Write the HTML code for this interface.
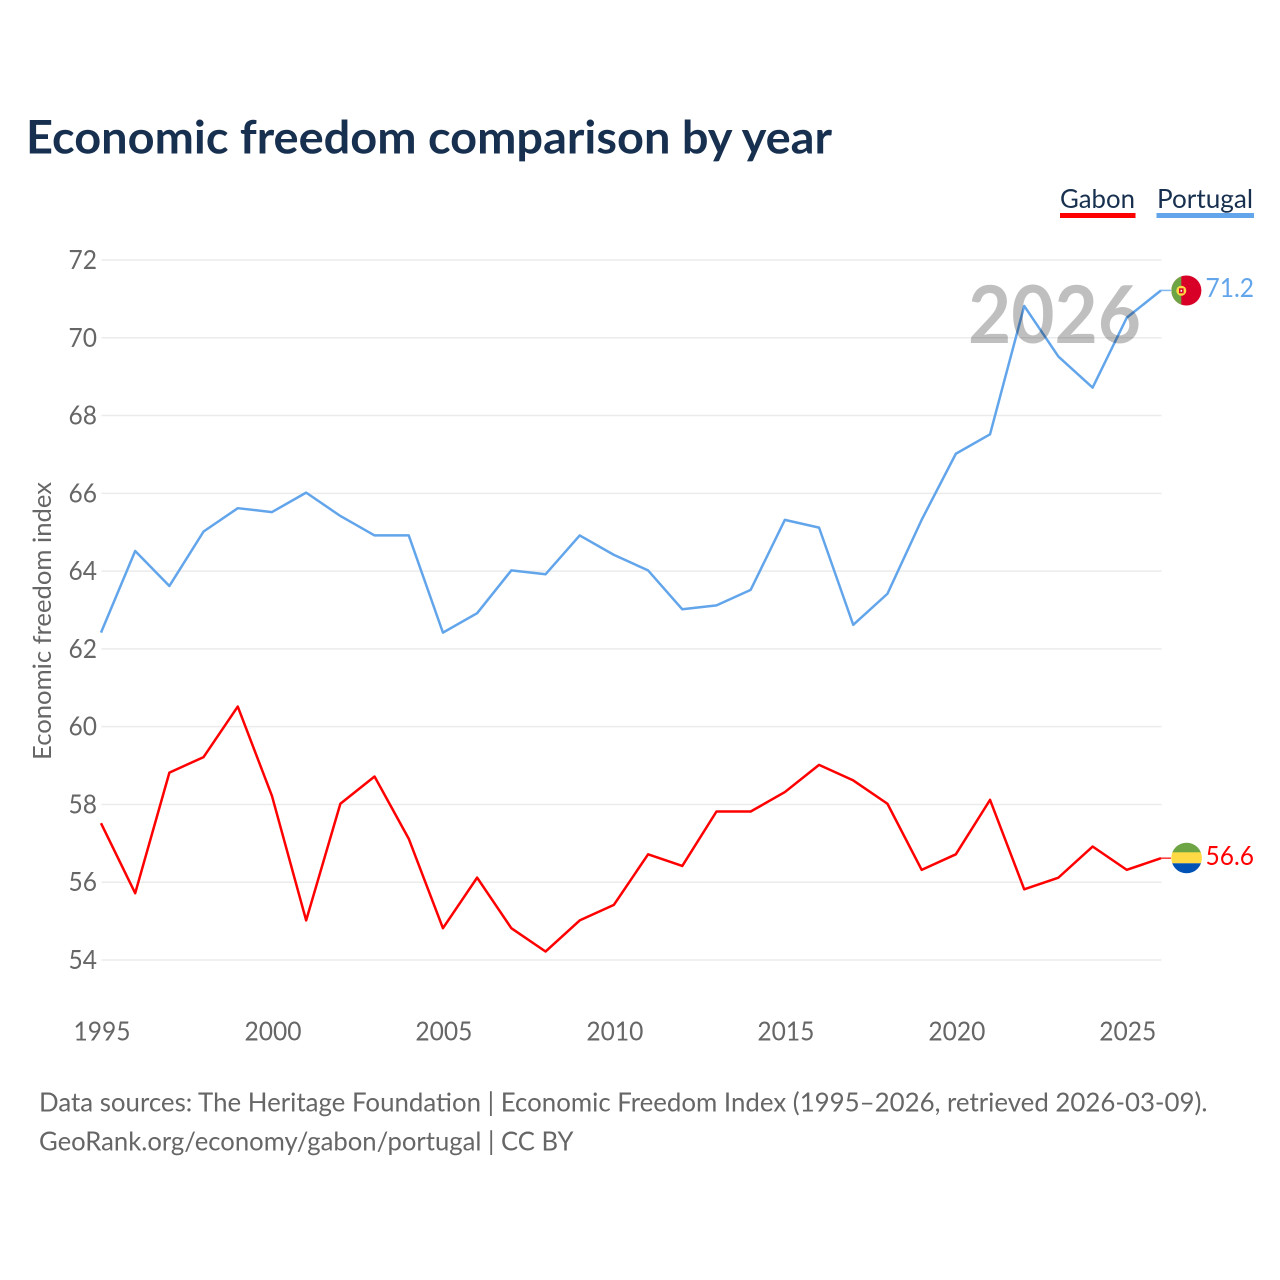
<!DOCTYPE html>
<html>
<head>
<meta charset="utf-8">
<style>
html,body{margin:0;padding:0;background:#fff;}
svg{display:block;}
text{font-family:"Lato","Carlito","Liberation Sans",sans-serif;}
</style>
</head>
<body>
<svg id="chart" width="1280" height="1280" viewBox="0 0 1280 1280" xmlns="http://www.w3.org/2000/svg">
  <rect width="1280" height="1280" fill="#ffffff"/>
  <text x="26" y="153.500" font-size="46" font-weight="700" fill="#18304f" textLength="806" lengthAdjust="spacingAndGlyphs">Economic freedom comparison by year</text>
  <g id="grid"></g>
  <g id="ylabels"></g>
  <g id="xlabels"></g>
  <text transform="translate(51,621) rotate(-90)" text-anchor="middle" font-size="25.500" fill="#666666" textLength="278" lengthAdjust="spacingAndGlyphs">Economic freedom index</text>
  <g id="series" transform="translate(-0.5,-0.7)"></g>
  <text x="968" y="343" font-size="80" font-weight="700" fill="#000000" fill-opacity="0.25" textLength="173" lengthAdjust="spacingAndGlyphs">2026</text>

  <g>
    <text x="1060" y="208" font-size="26" fill="#18304f" textLength="75" lengthAdjust="spacingAndGlyphs">Gabon</text>
    <rect x="1060" y="213" width="75.500" height="5" fill="#ff0000"/>
  </g>
  <g>
    <text x="1157" y="208" font-size="26" fill="#18304f" textLength="96" lengthAdjust="spacingAndGlyphs">Portugal</text>
    <rect x="1156.500" y="213" width="97.500" height="5" fill="#62a5eb"/>
  </g>

  <defs>
    <clipPath id="flag-pt"><circle cx="1186.400" cy="290.500" r="15"/></clipPath>
    <clipPath id="flag-ga"><circle cx="1186.600" cy="858" r="15.300"/></clipPath>
  </defs>
  <g clip-path="url(#flag-pt)">
    <rect x="1171" y="275" width="31" height="31" fill="#d80027"/>
    <rect x="1171" y="275" width="10.300" height="31" fill="#6da544"/>
    <circle cx="1181.300" cy="290.700" r="5" fill="#ffda44"/>
    <rect x="1179" y="288.300" width="4.600" height="5" fill="#d80027"/>
    <rect x="1180.500" y="289.800" width="1.600" height="2" fill="#eeeeee"/>
  </g>
  <g clip-path="url(#flag-ga)">
    <rect x="1171" y="842" width="32" height="11" fill="#6da544"/>
    <rect x="1171" y="852.300" width="32" height="11" fill="#ffda44"/>
    <rect x="1171" y="863.300" width="32" height="11" fill="#0052b4"/>
  </g>
  <text x="1205.500" y="297" font-size="26" fill="#62a5eb" textLength="48.500" lengthAdjust="spacingAndGlyphs">71.2</text>
  <text x="1205.500" y="865" font-size="26" fill="#ff0000" textLength="48.500" lengthAdjust="spacingAndGlyphs">56.6</text>

  <text x="39" y="1111.500" font-size="26.500" fill="#666666" textLength="1168.500" lengthAdjust="spacingAndGlyphs">Data sources: The Heritage Foundation | Economic Freedom Index (1995–2026, retrieved 2026-03-09).</text>
  <text x="39" y="1150.500" font-size="26.500" fill="#666666" textLength="534.500" lengthAdjust="spacingAndGlyphs">GeoRank.org/economy/gabon/portugal | CC BY</text>
</svg>
<script>
const years = [1995,1996,1997,1998,1999,2000,2001,2002,2003,2004,2005,2006,2007,2008,2009,2010,2011,2012,2013,2014,2015,2016,2017,2018,2019,2020,2021,2022,2023,2024,2025,2026];
const gabonValues = [57.5,55.7,58.8,59.2,60.5,58.2,55,58,58.7,57.1,54.8,56.1,54.8,54.2,55,55.4,56.7,56.4,57.8,57.8,58.3,59,58.6,58,56.3,56.7,58.1,55.8,56.1,56.9,56.3,56.6];
const portugalValues = [62.4,64.5,63.6,65,65.6,65.5,66,65.4,64.9,64.9,62.4,62.9,64,63.9,64.9,64.4,64,63,63.1,63.5,65.3,65.1,62.6,63.4,65.3,67,67.5,70.8,69.5,68.7,70.5,71.2];
const yTicks = [54,56,58,60,62,64,66,68,70,72];
const xTicks = [1995,2000,2005,2010,2015,2020,2025];

const NS = 'http://www.w3.org/2000/svg';
const xScale = function (year) { return 101.5 + (year - 1995) * (1161.5 - 101.5) / (2026 - 1995); };
const yScale = function (value) { return 960 - (value - 54) * (960 - 260) / (72 - 54); };

const grid = document.getElementById('grid');
const ylabels = document.getElementById('ylabels');
const xlabels = document.getElementById('xlabels');
const seriesGroup = document.getElementById('series');

yTicks.forEach(function (tick) {
  const line = document.createElementNS(NS, 'line');
  
  
  line.setAttribute('x1', 101.5);
  line.setAttribute('x2', 1161.5);
  line.setAttribute('y1', yScale(tick));
  line.setAttribute('y2', yScale(tick));
  line.setAttribute('stroke', '#ebebeb');
  line.setAttribute('stroke-width', '1.5');
  grid.appendChild(line);

  const label = document.createElementNS(NS, 'text');
  
  
  label.setAttribute('x', 97);
  label.setAttribute('y', yScale(tick) + 9);
  label.setAttribute('text-anchor', 'end');
  label.setAttribute('font-size', '26.5');
  label.setAttribute('fill', '#666666');
  label.setAttribute('textLength', '28.5');
  label.setAttribute('lengthAdjust', 'spacingAndGlyphs');
  label.textContent = tick;
  ylabels.appendChild(label);
});

xTicks.forEach(function (tick) {
  const label = document.createElementNS(NS, 'text');
  
  
  label.setAttribute('x', xScale(tick) + 0.5);
  label.setAttribute('y', 1040.5);
  label.setAttribute('text-anchor', 'middle');
  label.setAttribute('font-size', '26.5');
  label.setAttribute('fill', '#666666');
  label.setAttribute('textLength', '57');
  label.setAttribute('lengthAdjust', 'spacingAndGlyphs');
  label.textContent = tick;
  xlabels.appendChild(label);
});

function drawSeries(values, color, name) {
  const pts = values.map(function (v, i) {
    return xScale(years[i]).toFixed(2) + ',' + yScale(v).toFixed(2);
  }).join(' ');
  const poly = document.createElementNS(NS, 'polyline');
  
  
  poly.setAttribute('points', pts);
  poly.setAttribute('fill', 'none');
  poly.setAttribute('stroke', color);
  poly.setAttribute('stroke-width', '2.5');
  poly.setAttribute('stroke-linejoin', 'round');
  seriesGroup.appendChild(poly);

  const lastY = yScale(values[values.length - 1]);
  const connector = document.createElementNS(NS, 'line');
  
  
  connector.setAttribute('x1', xScale(years[years.length - 1]));
  connector.setAttribute('x2', xScale(years[years.length - 1]) + 10);
  connector.setAttribute('y1', lastY);
  connector.setAttribute('y2', lastY);
  connector.setAttribute('stroke', color);
  connector.setAttribute('stroke-width', '1.5');
  connector.setAttribute('stroke-opacity', '0.8');
  seriesGroup.appendChild(connector);
}

drawSeries(gabonValues, '#ff0000', 'gabon-line');
drawSeries(portugalValues, '#62a5eb', 'portugal-line');
</script>
</body>
</html>
